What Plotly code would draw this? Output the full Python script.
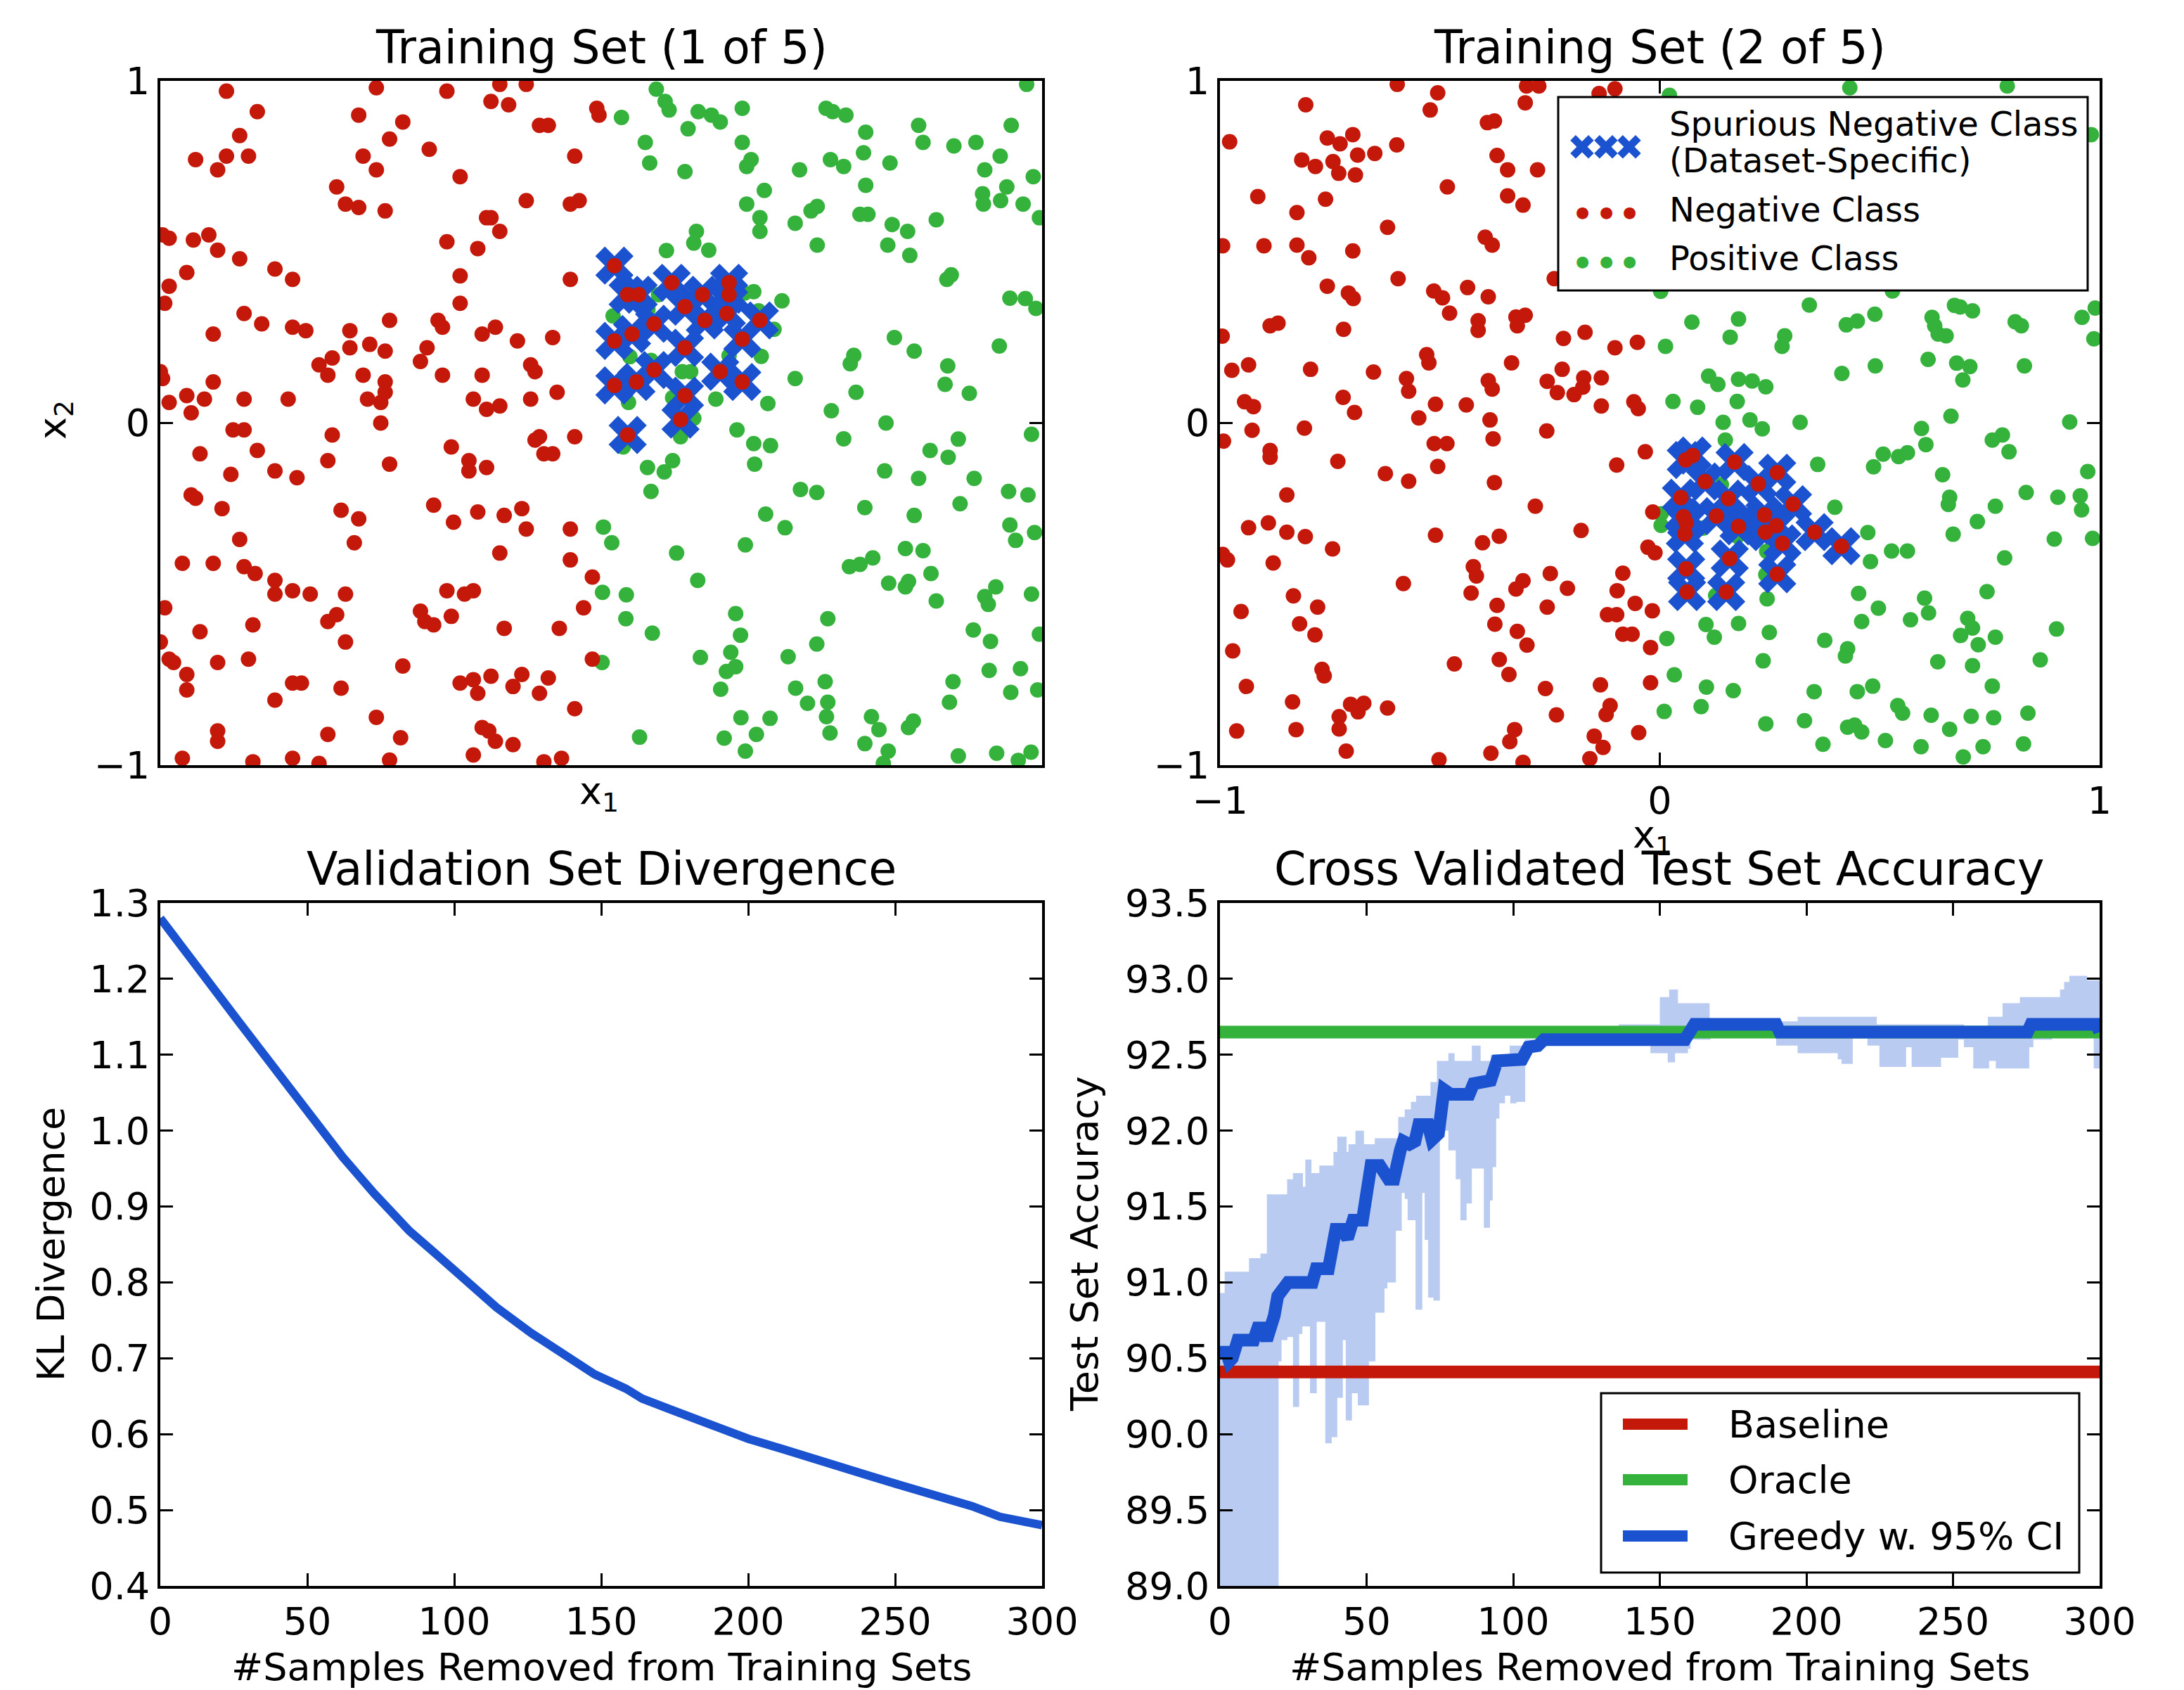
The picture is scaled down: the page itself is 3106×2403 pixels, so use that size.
import plotly.graph_objects as go

W, H = 3106, 2403
OFF = 8  # page body margin compensation
FONT = "DejaVu Sans"
RED = "#c4190a"
GREEN = "#34b23c"
BLUE = "#1a52cf"
BAND = "#b9cbf0"

# ---------------- Data ----------------
tl_negative = [
    (-0.85,0.97),(-0.78,0.91),(-0.82,0.84),(-0.85,0.78),(-0.80,0.78),(-0.92,0.77),(-0.87,0.74),(-0.51,0.98),(-0.55,0.90),(-0.45,0.88),
    (-0.48,0.83),(-0.54,0.78),(-0.51,0.74),(-0.35,0.97),(-0.23,0.99),(-0.17,0.99),(-0.25,0.94),(-0.21,0.93),(-0.39,0.80),(-0.32,0.72),
    (-0.14,0.87),(-0.12,0.87),(-0.01,0.92),(-0.005,0.90),(-0.06,0.78),
    (-0.60,0.69),(-0.58,0.64),(-0.55,0.63),(-0.49,0.62),(-0.17,0.65),(-0.07,0.64),(-0.05,0.65),(-0.26,0.60),(-0.25,0.60),(-0.23,0.56),
    (-0.35,0.53),(-0.28,0.51),(-0.995,0.55),(-0.98,0.54),(-0.925,0.535),(-0.89,0.55),(-0.87,0.505),(-0.82,0.48),
    (-0.74,0.45),(-0.70,0.42),(-0.94,0.44),(-0.98,0.40),(-0.99,0.35),(-0.32,0.43),(-0.32,0.35),(-0.07,0.42),(-0.81,0.32),(-0.77,0.29),
    (-0.70,0.28),(-0.67,0.27),(-0.88,0.26),(-0.57,0.27),(-0.48,0.30),(-0.37,0.30),(-0.36,0.28),(-0.24,0.28),(-0.27,0.26),(-0.19,0.24),(-0.11,0.25),
    (-0.525,0.23),(-0.49,0.21),(-0.57,0.22),(-0.61,0.19),(-0.64,0.17),(-0.62,0.14),(-0.54,0.14),(-0.41,0.18),(-0.395,0.22),(-0.36,0.14),
    (-0.27,0.14),(-0.16,0.17),(-0.15,0.15),(-1.0,0.15),(-0.995,0.13),(-0.88,0.12),(-0.94,0.08),(-0.98,0.06),(-0.90,0.07),(-0.81,0.07),
    (-0.71,0.07),(-0.93,0.03),(-0.53,0.07),(-0.49,0.12),(-0.49,0.09),(-0.50,0.06),(-0.29,0.07),(-0.26,0.04),(-0.23,0.05),(-0.16,0.07),(-0.10,0.09),
    (-0.835,-0.02),(-0.81,-0.02),(-0.78,-0.08),(-0.91,-0.09),(-0.84,-0.15),(-0.74,-0.14),(-0.69,-0.16),(-0.61,-0.035),(-0.62,-0.11),(-0.50,0.0),
    (-0.48,-0.12),(-0.34,-0.07),(-0.30,-0.11),(-0.30,-0.14),(-0.26,-0.13),(-0.15,-0.05),(-0.14,-0.04),(-0.13,-0.09),(-0.11,-0.09),(-0.06,-0.04),
    (-0.93,-0.21),(-0.92,-0.22),(-0.86,-0.25),(-0.59,-0.255),(-0.55,-0.28),(-0.38,-0.24),(-0.335,-0.29),(-0.28,-0.26),(-0.22,-0.27),(-0.18,-0.25),
    (-0.17,-0.31),(-0.07,-0.31),(-0.82,-0.34),(-0.56,-0.35),(-0.95,-0.41),(-0.88,-0.41),(-0.81,-0.42),(-0.785,-0.44),(-0.23,-0.38),(-0.07,-0.40),
    (-0.74,-0.46),(-0.74,-0.50),(-0.70,-0.49),(-0.66,-0.50),(-0.58,-0.50),(-0.02,-0.45),(-0.35,-0.49),(-0.31,-0.50),(-0.29,-0.49),(-0.99,-0.54),
    (-0.91,-0.61),(-0.79,-0.59),(-0.62,-0.58),(-0.60,-0.56),(-0.58,-0.64),(-0.41,-0.55),(-0.40,-0.58),(-0.38,-0.59),(-0.34,-0.565),(-0.22,-0.60),
    (-0.095,-0.60),(-0.04,-0.54),(-1.0,-0.64),
    (-0.98,-0.69),(-0.97,-0.70),(-0.94,-0.735),(-0.94,-0.78),(-0.87,-0.70),(-0.80,-0.69),(-0.45,-0.71),(-0.32,-0.76),(-0.29,-0.75),(-0.28,-0.79),
    (-0.25,-0.74),(-0.20,-0.77),(-0.18,-0.735),(-0.14,-0.79),(-0.12,-0.745),(-0.02,-0.69),(-0.74,-0.81),(-0.70,-0.76),(-0.68,-0.76),(-0.59,-0.775),
    (-0.51,-0.86),(-0.87,-0.90),(-0.87,-0.93),(-0.62,-0.91),(-0.455,-0.92),(-0.27,-0.89),(-0.255,-0.90),(-0.24,-0.93),(-0.20,-0.94),(-0.06,-0.835),
    (-0.29,-0.97),(-0.95,-0.98),(-0.79,-0.99),(-0.70,-0.98),(-0.64,-0.995),(-0.48,-0.985),(-0.13,-0.99),(-0.09,-0.98),
]

tl_spurious = [
    (0.03,0.46),(0.06,0.375),(0.085,0.375),(0.16,0.41),(0.23,0.375),(0.29,0.41),(0.29,0.375),(0.19,0.34),(0.285,0.32),(0.235,0.30),
    (0.12,0.29),(0.36,0.30),(0.03,0.24),(0.07,0.26),(0.19,0.22),(0.32,0.245),(0.12,0.155),(0.08,0.12),(0.03,0.11),(0.27,0.15),
    (0.32,0.12),(0.19,0.08),(0.18,0.01),(0.06,-0.035),
]

tl_positive = [
    (0.125,0.976),(0.145,0.94),(0.154,0.915),(0.046,0.893),(0.22,0.91),(0.25,0.90),(0.27,0.88),(0.197,0.86),(0.32,0.92),(0.10,0.82),
    (0.11,0.76),(0.19,0.735),(0.32,0.82),(0.34,0.77),(0.33,0.75),(0.37,0.68),(0.33,0.64),(0.36,0.60),(0.36,0.56),(0.51,0.92),
    (0.525,0.91),(0.555,0.90),(0.60,0.85),(0.595,0.79),(0.52,0.77),(0.55,0.75),(0.45,0.74),(0.60,0.695),(0.655,0.76),(0.72,0.87),
    (0.73,0.82),(0.80,0.81),(0.85,0.82),(0.93,0.87),(0.965,0.99),(0.905,0.78),(0.87,0.74),(0.98,0.72),(0.92,0.69),(0.865,0.67),
    (0.867,0.64),(0.906,0.65),(0.957,0.64),(0.994,0.60),(0.476,0.62),(0.49,0.633),(0.587,0.61),(0.605,0.61),(0.44,0.584),(0.66,0.58),
    (0.695,0.56),(0.76,0.594),(0.65,0.52),(0.70,0.49),(0.49,0.52),(0.216,0.56),(0.21,0.526),(0.244,0.505),(0.148,0.504),(0.784,0.42),
    (0.794,0.433),(0.927,0.365),(0.962,0.364),(0.986,0.335),(0.41,0.357),(0.346,0.384),(0.325,0.38),(0.357,0.328),(0.392,0.274),(0.027,0.313),
    (0.13,0.375),(0.106,0.332),(0.665,0.25),(0.71,0.21),(0.903,0.225),(0.573,0.198),(0.565,0.173),(0.578,0.09),(0.44,0.13),(0.363,0.195),
    (0.29,0.197),(0.786,0.167),(0.78,0.113),(0.835,0.087),(0.065,0.194),(0.113,0.183),(0.184,0.15),(0.203,0.15),(0.26,0.07),(0.062,0.06),
    (0.162,0.074),(0.21,0.014),(0.378,0.057),(0.522,0.036),(0.646,0.0),(0.976,-0.033),(0.308,-0.02),(0.346,-0.06),(0.384,-0.066),(0.348,-0.12),
    (0.55,-0.046),(0.18,-0.04),(0.05,-0.07),(0.105,-0.13),(0.143,-0.143),(0.162,-0.11),(0.113,-0.2),(0.643,-0.14),(0.746,-0.08),(0.787,-0.1),
    (0.81,-0.047),(0.846,-0.162),(0.72,-0.162),(0.452,-0.194),(0.489,-0.203),(0.598,-0.247),(0.71,-0.27),(0.814,-0.236),(0.924,-0.2),(0.968,-0.21),
    (0.373,-0.266),(0.417,-0.306),(0.927,-0.298),(0.94,-0.343),(0.983,-0.32),(0.005,-0.304),(0.024,-0.35),(0.171,-0.38),(0.327,-0.356),(0.69,-0.367),
    (0.73,-0.373),(0.563,-0.42),(0.587,-0.413),(0.616,-0.394),(0.748,-0.44),(0.652,-0.468),(0.69,-0.479),(0.697,-0.463),(0.76,-0.52),(0.219,-0.46),
    (0.003,-0.495),(0.057,-0.502),(0.895,-0.479),(0.87,-0.507),(0.878,-0.53),(0.976,-0.5),(0.305,-0.557),(0.056,-0.572),(0.116,-0.614),(0.316,-0.62),
    (0.514,-0.572),(0.844,-0.605),(0.883,-0.638),(0.994,-0.617),(0.489,-0.646),(0.002,-0.70),(0.225,-0.685),(0.294,-0.67),(0.284,-0.726),(0.305,-0.712),
    (0.424,-0.683),(0.271,-0.778),(0.441,-0.775),(0.508,-0.756),(0.468,-0.819),(0.514,-0.816),(0.511,-0.858),(0.519,-0.906),(0.798,-0.756),(0.79,-0.816),
    (0.88,-0.723),(0.951,-0.718),(0.929,-0.787),(0.99,-0.78),(0.317,-0.861),(0.383,-0.863),(0.613,-0.858),(0.63,-0.896),(0.697,-0.89),(0.708,-0.871),
    (0.598,-0.937),(0.651,-0.959),(0.087,-0.918),(0.279,-0.921),(0.352,-0.91),(0.327,-0.959),(0.81,-0.973),(0.897,-0.965),(0.975,-0.962),(0.946,-0.986),
    (0.64,-0.995),
]

tr_negative = [
    (-0.597,0.99),(-0.505,0.965),(-0.522,0.915),(-0.805,0.93),(-0.303,0.985),(-0.275,0.985),(-0.306,0.936),(-0.138,0.963),(-0.102,0.977),(-0.978,0.822),
    (-0.756,0.833),(-0.727,0.816),(-0.698,0.843),(-0.687,0.783),(-0.648,0.788),(-0.598,0.813),(-0.814,0.769),(-0.783,0.75),(-0.743,0.764),(-0.73,0.73),
    (-0.692,0.725),(-0.392,0.878),(-0.376,0.883),(-0.37,0.782),(-0.346,0.74),(-0.278,0.74),(-0.483,0.69),(-0.914,0.662),(-0.825,0.615),(-0.76,0.654),
    (-0.346,0.664),(-0.311,0.637),(-0.619,0.572),(-0.994,0.518),(-0.9,0.518),(-0.825,0.52),(-0.798,0.483),(-0.698,0.503),(-0.397,0.543),(-0.381,0.52),
    (-0.595,0.422),(-0.756,0.40),(-0.708,0.38),(-0.697,0.364),(-0.514,0.386),(-0.494,0.366),(-0.478,0.321),(-0.437,0.396),(-0.39,0.369),(-0.24,0.422),
    (-0.886,0.284),(-0.868,0.292),(-0.719,0.274),(-0.413,0.299),(-0.413,0.271),(-0.327,0.31),(-0.306,0.315),(-0.324,0.284),(-0.995,0.254),(-0.219,0.247),
    (-0.17,0.265),(-0.102,0.22),(-0.051,0.236),(-0.973,0.154),(-0.935,0.17),(-0.794,0.157),(-0.651,0.149),(-0.53,0.2),(-0.525,0.176),(-0.576,0.13),
    (-0.571,0.093),(-0.39,0.124),(-0.381,0.099),(-0.337,0.176),(-0.256,0.122),(-0.222,0.157),(-0.233,0.089),(-0.195,0.083),(-0.173,0.132),(-0.175,0.105),
    (-0.133,0.132),(-0.133,0.05),(-0.059,0.062),(-0.049,0.042),(-0.944,0.062),(-0.924,0.048),(-0.72,0.075),(-0.694,0.031),(-0.51,0.055),(-0.44,0.053),
    (-0.386,0.009),(-0.548,0.015),(-0.992,-0.053),(-0.927,-0.021),(-0.886,-0.08),(-0.886,-0.1),(-0.808,-0.015),(-0.732,-0.112),(-0.513,-0.06),(-0.484,-0.06),
    (-0.505,-0.127),(-0.379,-0.046),(-0.376,-0.174),(-0.257,-0.023),(-0.624,-0.148),(-0.571,-0.17),(-0.098,-0.123),(-0.033,-0.084),(-0.848,-0.21),(-0.283,-0.243),
    (-0.89,-0.292),(-0.935,-0.306),(-0.848,-0.319),(-0.806,-0.332),(-0.744,-0.368),(-0.994,-0.384),(-0.983,-0.4),(-0.879,-0.409),(-0.51,-0.328),(-0.403,-0.35),
    (-0.365,-0.331),(-0.179,-0.314),(-0.016,-0.26),(-0.027,-0.363),(-0.011,-0.379),(-0.583,-0.469),(-0.424,-0.42),(-0.417,-0.447),(-0.429,-0.497),(-0.311,-0.461),
    (-0.327,-0.485),(-0.249,-0.44),(-0.21,-0.483),(-0.097,-0.49),(-0.084,-0.439),(-0.833,-0.505),(-0.778,-0.538),(-0.952,-0.551),(-0.819,-0.587),(-0.784,-0.619),
    (-0.37,-0.533),(-0.375,-0.588),(-0.324,-0.609),(-0.302,-0.649),(-0.256,-0.538),(-0.119,-0.56),(-0.098,-0.56),(-0.084,-0.617),(-0.063,-0.617),(-0.056,-0.527),
    (-0.017,-0.549),(-0.021,-0.656),(-0.971,-0.666),(-0.94,-0.77),(-0.768,-0.72),(-0.763,-0.739),(-0.467,-0.704),(-0.365,-0.691),(-0.343,-0.735),(-0.26,-0.776),
    (-0.135,-0.765),(-0.021,-0.759),(-0.835,-0.815),(-0.729,-0.858),(-0.703,-0.822),(-0.686,-0.844),(-0.673,-0.819),(-0.619,-0.833),(-0.235,-0.853),(-0.122,-0.852),
    (-0.113,-0.826),(-0.962,-0.9),(-0.827,-0.896),(-0.729,-0.894),(-0.713,-0.959),(-0.33,-0.896),(-0.341,-0.931),(-0.149,-0.915),(-0.129,-0.948),(-0.048,-0.905),
    (-0.502,-0.984),(-0.384,-0.965),(-0.311,-0.992),(-0.159,-0.981),
]

tr_spurious = [
    (0.059,-0.108),(0.075,-0.095),(0.17,-0.114),(0.267,-0.145),(0.103,-0.171),(0.224,-0.178),(0.048,-0.218),(0.156,-0.221),(0.303,-0.237),(0.129,-0.272),
    (0.179,-0.302),(0.238,-0.269),(0.265,-0.3),(0.24,-0.319),(0.054,-0.274),(0.06,-0.292),(0.057,-0.324),(0.352,-0.319),(0.279,-0.352),(0.413,-0.36),
    (0.159,-0.396),(0.06,-0.426),(0.267,-0.442),(0.062,-0.494),(0.151,-0.494),
]

tr_positive = [
    (0.022,0.958),(0.432,0.98),(0.79,0.985),(0.981,0.843),(0.002,0.385),(0.529,0.386),(0.34,0.345),(0.67,0.344),(0.683,0.339),(0.711,0.328),
    (0.073,0.295),(0.179,0.304),(0.424,0.287),(0.449,0.298),(0.489,0.318),(0.619,0.309),(0.625,0.284),(0.633,0.26),(0.651,0.255),(0.808,0.296),
    (0.822,0.284),(0.96,0.309),(0.99,0.336),(0.987,0.246),(0.013,0.224),(0.16,0.251),(0.284,0.255),(0.278,0.224),(0.61,0.186),(0.675,0.175),
    (0.705,0.165),(0.829,0.167),(0.49,0.167),(0.414,0.145),(0.111,0.137),(0.132,0.113),(0.179,0.128),(0.21,0.123),(0.241,0.106),(0.689,0.126),
    (0.03,0.063),(0.086,0.046),(0.176,0.063),(0.205,0.009),(0.144,0.002),(0.319,0.002),(0.233,-0.017),(0.662,0.02),(0.932,0.003),(0.595,-0.016),
    (0.605,-0.063),(0.149,-0.05),(0.756,-0.05),(0.779,-0.035),(0.794,-0.084),(0.508,-0.091),(0.543,-0.098),(0.563,-0.087),(0.359,-0.121),(0.486,-0.128),
    (0.643,-0.151),(0.973,-0.142),(0.659,-0.217),(0.656,-0.238),(0.763,-0.243),(0.833,-0.203),(0.905,-0.217),(0.956,-0.213),(0.959,-0.254),(0.398,-0.246),
    (0.003,-0.265),(0.003,-0.299),(0.098,-0.307),(0.473,-0.32),(0.667,-0.325),(0.722,-0.288),(0.897,-0.339),(0.984,-0.337),(0.243,-0.375),(0.527,-0.374),
    (0.563,-0.374),(0.479,-0.405),(0.784,-0.394),(0.241,-0.443),(0.452,-0.498),(0.497,-0.541),(0.602,-0.512),(0.611,-0.555),(0.57,-0.575),(0.744,-0.493),
    (0.459,-0.58),(0.7,-0.571),(0.711,-0.599),(0.684,-0.621),(0.724,-0.648),(0.763,-0.626),(0.902,-0.602),(0.105,-0.589),(0.124,-0.626),(0.179,-0.586),
    (0.249,-0.612),(0.016,-0.63),(0.375,-0.635),(0.427,-0.66),(0.422,-0.681),(0.235,-0.695),(0.632,-0.698),(0.711,-0.709),(0.865,-0.692),(0.033,-0.736),
    (0.106,-0.772),(0.167,-0.782),(0.351,-0.785),(0.449,-0.785),(0.484,-0.769),(0.756,-0.769),(0.01,-0.843),(0.094,-0.829),(0.241,-0.879),(0.329,-0.87),
    (0.541,-0.826),(0.552,-0.848),(0.617,-0.854),(0.708,-0.857),(0.759,-0.861),(0.837,-0.848),(0.427,-0.889),(0.443,-0.883),(0.459,-0.903),(0.513,-0.928),
    (0.659,-0.895),(0.371,-0.939),(0.594,-0.946),(0.735,-0.946),(0.827,-0.938),(0.69,-0.976),(0.244,-0.514),(0.127,-0.504),(0.176,-0.331),(0.14,-0.18),
]

kl_samples = [0, 15.7, 26.4, 38.3, 50.2, 62.1, 72.8, 84.7, 95.4, 107.3, 114.4, 126.3, 138.2, 147.7, 158.4, 163.9,
              173.9, 188.2, 200, 212, 226.2, 240.5, 252.4, 261.9, 276.2, 285.7, 300]
kl_divergence = [1.28, 1.198, 1.145, 1.085, 1.024, 0.965, 0.917, 0.868, 0.832, 0.789, 0.767, 0.733, 0.704, 0.679, 0.660, 0.647,
                 0.632, 0.610, 0.594, 0.580, 0.562, 0.546, 0.532, 0.521, 0.505, 0.491, 0.480]

greedy_samples = [0, 2.2, 3.2, 4.2, 6.1, 11.5, 12.9, 14.4, 15.9, 16.6, 17.5, 18.5, 19.7, 21.7, 23.2, 31.5, 32.8, 37.0, 38.2,
                  39.5, 41.6, 43.5, 45.4, 48.6, 51.5, 54.5, 57.5, 59.3, 61.5, 62.5, 64.6, 66.5, 67.8, 71, 72.3, 74.5, 76.4,
                  77.9, 78.6, 85, 86.5, 92.3, 94.5, 103, 105.2, 108.4, 110.5, 158.6, 161.8, 189.7, 190.9, 275.4, 276.6, 299, 300]
greedy_accuracy = [90.54, 90.54, 90.48, 90.5, 90.62, 90.62, 90.70, 90.70, 90.62, 90.66, 90.75, 90.78, 90.91, 90.97, 91.0, 91.0,
                   91.09, 91.09, 91.2, 91.35, 91.35, 91.29, 91.41, 91.41, 91.77, 91.77, 91.68, 91.68, 91.87, 91.93, 91.91, 91.93,
                   92.04, 92.04, 91.94, 91.98, 92.27, 92.26, 92.24, 92.24, 92.31, 92.33, 92.46, 92.47, 92.55, 92.56, 92.6, 92.6,
                   92.70, 92.70, 92.65, 92.65, 92.70, 92.70, 92.65]

ci_upper_samples = [0, 1.6, 9.9, 13.8, 16, 22.9, 24.9, 28.3, 29.1, 31.2, 33.9, 38.7, 40, 43.2, 43.8, 46.2, 49.1, 52.8, 60.8,
                    63, 65.1, 66.9, 71.8, 74, 77.9, 80, 85.9, 88.9, 92.3, 98.8, 104, 108, 136, 150, 153.2, 156.2, 167, 197,
                    224, 253.7, 261.9, 266.9, 272.8, 286.5, 287.9, 289.7, 295.7, 300]
ci_upper = [90.93, 91.07, 91.16, 91.19, 91.58, 91.68, 91.72, 91.63, 91.81, 91.72, 91.77, 91.86, 91.96, 91.86, 91.91, 92.0,
            91.91, 91.95, 92.09, 92.14, 92.19, 92.23, 92.32, 92.46, 92.51, 92.46, 92.56, 92.46, 92.5, 92.56, 92.6, 92.63,
            92.70, 92.88, 92.93, 92.84, 92.72, 92.75, 92.70, 92.68, 92.75, 92.84, 92.88, 92.93, 92.98, 93.02, 92.99, 92.99]

ci_lower_samples = [0, 20, 21, 23, 24.9, 27, 28.1, 30.7, 33, 35.9, 38.1, 40, 41.9, 42.9, 45, 47, 50.8, 53, 56.1, 57.1, 60,
                    62, 63, 64, 66.7, 69, 69.8, 71, 72.8, 75, 77.9, 80.4, 82, 84.1, 85.9, 90, 92.1, 93, 94.2, 95.3, 97.2,
                    99, 101.1, 104.1, 106, 146.8, 152.7, 155.2, 159.6, 160.5, 167.3, 189.7, 197, 210.7, 212, 215.8, 220.8,
                    224.9, 234, 235.9, 245.9, 251.8, 253.7, 256.9, 262.3, 264.6, 276, 277.4, 283.8, 298, 300]
ci_lower = [88.8, 90.48, 90.62, 90.64, 90.18, 90.66, 90.71, 90.27, 90.74, 89.94, 89.98, 90.24, 90.62, 90.09, 90.27, 90.19,
            90.48, 90.8, 90.96, 91.0, 91.34, 91.59, 91.55, 91.41, 90.82, 91.59, 91.28, 90.9, 90.88, 92.0, 91.87, 91.68,
            91.41, 91.52, 91.75, 91.36, 91.54, 91.76, 92.08, 92.18, 92.23, 92.18, 92.19, 92.5, 92.57, 92.51, 92.45, 92.51,
            92.54, 92.6, 92.63, 92.56, 92.51, 92.47, 92.44, 92.61, 92.56, 92.42, 92.55, 92.42, 92.48, 92.6, 92.55, 92.41,
            92.46, 92.41, 92.55, 92.6, 92.63, 92.41, 92.41]

baseline_accuracy = 90.41
oracle_accuracy = 92.65
sample_range = [0, 300]

scatter_ticks = [-1, 0, 1]
kl_ticks = [0.4, 0.5, 0.6, 0.7, 0.8, 0.9, 1.0, 1.1, 1.2, 1.3]
acc_ticks = [89.0, 89.5, 90.0, 90.5, 91.0, 91.5, 92.0, 92.5, 93.0, 93.5]
sample_ticks = [0, 50, 100, 150, 200, 250, 300]

# ---------------- Layout helpers ----------------
def px(x):
    return (x - OFF) / W

def py(y):
    return 1 - (y - OFF) / H

def xs(pts):
    return [p[0] for p in pts]

def ys(pts):
    return [p[1] for p in pts]

L_X = [px(228), px(1482)]
R_X = [px(1735), px(2986)]
TOP_Y = [py(1088), py(115)]
BOT_Y = [py(2255), py(1284)]

TICKFONT = dict(family=FONT, size=54, color="black")

def axis(domain, rng, tickvals, labels=True, ticks="inside", fmt=None, anchor=None):
    d = dict(domain=domain, range=rng, tickvals=tickvals, ticks=ticks, ticklen=18, tickwidth=3,
             tickcolor="black", showline=True, linewidth=4, linecolor="black",
             mirror="ticks" if ticks else True, showgrid=False, zeroline=False,
             tickfont=TICKFONT, showticklabels=labels, anchor=anchor, automargin=False)
    if fmt:
        d["tickformat"] = fmt
    return d

MARK = 22
XMARK = 48

fig = go.Figure()

# ---- Training set 1 ----
fig.add_trace(go.Scatter(x=xs(tl_positive), y=ys(tl_positive), mode="markers", xaxis="x", yaxis="y",
                         marker=dict(color=GREEN, size=MARK, line=dict(width=0)), showlegend=False))
fig.add_trace(go.Scatter(x=xs(tl_spurious), y=ys(tl_spurious), mode="markers", xaxis="x", yaxis="y",
                         marker=dict(color=BLUE, size=XMARK, symbol="x", line=dict(width=0)), showlegend=False))
fig.add_trace(go.Scatter(x=xs(tl_negative + tl_spurious), y=ys(tl_negative + tl_spurious), mode="markers",
                         xaxis="x", yaxis="y", marker=dict(color=RED, size=MARK, line=dict(width=0)), showlegend=False))

# ---- Training set 2 ----
fig.add_trace(go.Scatter(x=xs(tr_positive), y=ys(tr_positive), mode="markers", xaxis="x2", yaxis="y2",
                         marker=dict(color=GREEN, size=MARK, line=dict(width=0)), showlegend=False))
fig.add_trace(go.Scatter(x=xs(tr_spurious), y=ys(tr_spurious), mode="markers", xaxis="x2", yaxis="y2",
                         marker=dict(color=BLUE, size=XMARK, symbol="x", line=dict(width=0)), showlegend=False))
fig.add_trace(go.Scatter(x=xs(tr_negative + tr_spurious), y=ys(tr_negative + tr_spurious), mode="markers",
                         xaxis="x2", yaxis="y2", marker=dict(color=RED, size=MARK, line=dict(width=0)), showlegend=False))

# ---- KL divergence ----
fig.add_trace(go.Scatter(x=kl_samples, y=kl_divergence, mode="lines", xaxis="x3", yaxis="y3",
                         line=dict(color=BLUE, width=12), showlegend=False))

# ---- Accuracy ----
fig.add_trace(go.Scatter(x=ci_lower_samples, y=ci_lower, mode="lines", xaxis="x4", yaxis="y4",
                         line=dict(width=0, shape="hv"), showlegend=False, hoverinfo="skip"))
fig.add_trace(go.Scatter(x=ci_upper_samples, y=ci_upper, mode="lines", xaxis="x4", yaxis="y4",
                         line=dict(width=0, shape="hv"), fill="tonexty", fillcolor=BAND,
                         showlegend=False, hoverinfo="skip"))
fig.add_trace(go.Scatter(x=sample_range, y=[baseline_accuracy] * 2, mode="lines", xaxis="x4", yaxis="y4",
                         line=dict(color=RED, width=18), showlegend=False))
fig.add_trace(go.Scatter(x=sample_range, y=[oracle_accuracy] * 2, mode="lines", xaxis="x4", yaxis="y4",
                         line=dict(color=GREEN, width=18), showlegend=False))
fig.add_trace(go.Scatter(x=greedy_samples, y=greedy_accuracy, mode="lines", xaxis="x4", yaxis="y4",
                         line=dict(color=BLUE, width=18), showlegend=False))

def ann(text, x, y, size, angle=0, color="black", xanchor="center", yanchor="middle"):
    return dict(text=text, x=x, y=y, xref="paper", yref="paper", showarrow=False, textangle=angle,
                font=dict(family=FONT, size=size, color=color), xanchor=xanchor, yanchor=yanchor)

annotations = [
    ann("x<sub>1</sub>", px(852), py(1128), 54),
    ann("x<sub>2</sub>", px(78), py(597), 54, angle=-90),
    ann("x<sub>1</sub>", px(2350), py(1190), 54),
    ann("Training Set (1 of 5)", px(855), py(68), 65),
    ann("Training Set (2 of 5)", px(2360), py(68), 65),
    ann("Validation Set Divergence", px(855), py(1235), 65),
    ann("Cross Validated Test Set Accuracy", px(2360), py(1235), 65),
    ann("KL Divergence", px(72), py(1769), 54, angle=-90),
    ann("Test Set Accuracy", px(1542), py(1769), 54, angle=-90),
    ann("#Samples Removed from Training Sets", px(855), py(2370), 54),
    ann("#Samples Removed from Training Sets", px(2360), py(2370), 54),
    # top legend
    ann("Spurious Negative Class", px(2372), py(176), 48, xanchor="left"),
    ann("(Dataset-Specific)", px(2372), py(228), 48, xanchor="left"),
    ann("Negative Class", px(2372), py(298), 48, xanchor="left"),
    ann("Positive Class", px(2372), py(367), 48, xanchor="left"),
    # bottom legend
    ann("Baseline", px(2456), py(2025), 54, xanchor="left"),
    ann("Oracle", px(2456), py(2104), 54, xanchor="left"),
    ann("Greedy w. 95% CI", px(2456), py(2184), 54, xanchor="left"),
]
for gx in (2250, 2284, 2317):
    annotations.append(ann("✖", px(gx), py(210), 50, color=BLUE))
    annotations.append(ann("●", px(gx), py(301), 22, color=RED))
    annotations.append(ann("●", px(gx), py(371), 22, color=GREEN))

shapes = [
    dict(type="rect", xref="paper", yref="paper", x0=px(2216), x1=px(2969), y0=py(413), y1=py(138),
         line=dict(color="black", width=3), fillcolor="white", layer="above"),
    dict(type="rect", xref="paper", yref="paper", x0=px(2277), x1=px(2957), y0=py(2236), y1=py(1981),
         line=dict(color="black", width=3), fillcolor="white", layer="above"),
]
for yy, col in ((2025, RED), (2104, GREEN), (2184, BLUE)):
    shapes.append(dict(type="line", xref="paper", yref="paper", x0=px(2308), x1=px(2400), y0=py(yy), y1=py(yy),
                       line=dict(color=col, width=16), layer="above"))

fig.update_layout(
    template="none",
    width=W, height=H, autosize=False,
    margin=dict(l=0, r=0, t=0, b=0, autoexpand=False),
    paper_bgcolor="white", plot_bgcolor="white",
    font=dict(family=FONT, color="black"),
    showlegend=False,
    xaxis=axis(L_X, [-1, 1], scatter_ticks, labels=False, ticks="", anchor="y"),
    yaxis=axis(TOP_Y, [-1, 1], scatter_ticks, anchor="x"),
    xaxis2=axis(R_X, [-1, 1], scatter_ticks, anchor="y2"),
    yaxis2=axis(TOP_Y, [-1, 1], scatter_ticks, anchor="x2"),
    xaxis3=axis(L_X, [0, 300], sample_ticks, anchor="y3"),
    yaxis3=axis(BOT_Y, [0.4, 1.3], kl_ticks, fmt=".1f", anchor="x3"),
    xaxis4=axis(R_X, [0, 300], sample_ticks, anchor="y4"),
    yaxis4=axis(BOT_Y, [89.0, 93.5], acc_ticks, fmt=".1f", anchor="x4"),
    annotations=annotations,
    shapes=shapes,
)

fig.write_html("out.html")
